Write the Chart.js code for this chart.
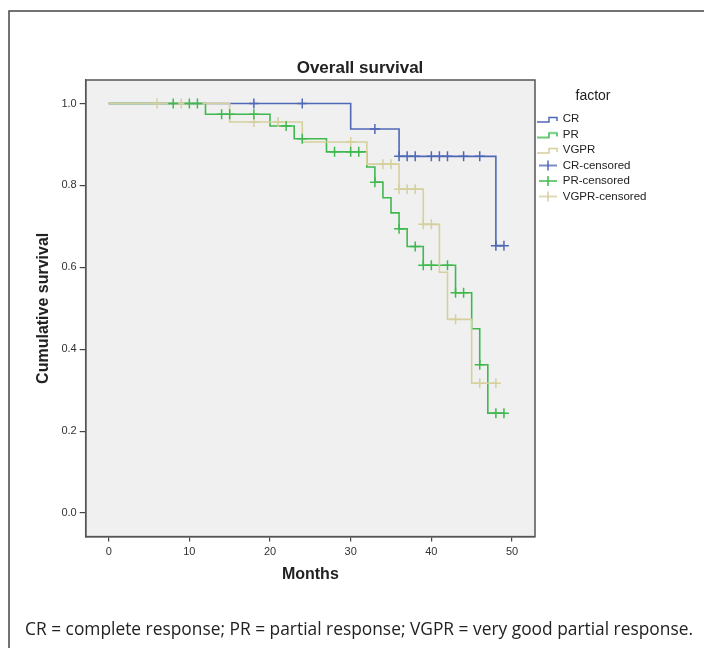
<!DOCTYPE html>
<html><head><meta charset="utf-8">
<script src="https://cdn.jsdelivr.net/npm/chart.js@4"></script>
<style>
html,body{margin:0;padding:0;background:#fff;width:704px;height:648px;overflow:hidden;}
#wrap{position:relative;width:704px;height:648px;}
#c{position:absolute;left:0;top:0;}
#caption{position:absolute;left:25px;top:617px;font-family:"Open Sans",sans-serif;font-size:19px;line-height:22px;color:#222;white-space:nowrap;transform-origin:0 0;}
</style></head><body>
<div id="wrap"><canvas id="c" width="704" height="648"></canvas>
<div id="caption">CR = complete response; PR = partial response; VGPR = very good partial response.</div></div>
<script>
// ---- text ----
const chartTitle = 'Overall survival';
const xTitle = 'Months';
const yTitle = 'Cumulative survival';
const legendTitle = 'factor';
const seriesNames = ['CR', 'PR', 'VGPR', 'CR-censored', 'PR-censored', 'VGPR-censored'];
const xTicks = [0, 10, 20, 30, 40, 50];
const yTicks = [0, 0.2, 0.4, 0.6, 0.8, 1.0];

// ---- step curves (time, cumulative survival) ----
const crTime   = [0, 30, 36, 48, 49];
const crSurv   = [1.0, 0.938, 0.871, 0.653, 0.653];
const prTime   = [0, 12, 20, 23, 27, 32, 33, 34, 35, 36, 37, 39, 43, 45, 46, 47, 49];
const prSurv   = [1.0, 0.974, 0.945, 0.914, 0.882, 0.845, 0.808, 0.770, 0.733, 0.694, 0.651, 0.605, 0.538, 0.450, 0.362, 0.244, 0.244];
const vgprTime = [0, 15, 24, 32, 36, 39, 41, 42, 45, 48];
const vgprSurv = [1.0, 0.955, 0.906, 0.852, 0.791, 0.705, 0.588, 0.473, 0.317, 0.317];

// ---- censored marks ----
const crCensTime   = [18, 24, 33, 36, 37, 38, 40, 41, 42, 44, 46, 48, 49];
const crCensSurv   = [1.0, 1.0, 0.938, 0.871, 0.871, 0.871, 0.871, 0.871, 0.871, 0.871, 0.871, 0.653, 0.653];
const prCensTime   = [8, 10, 11, 14, 15, 18, 22, 24, 28, 30, 31, 33, 36, 38, 39, 40, 42, 43, 44, 46, 48, 49];
const prCensSurv   = [1.0, 1.0, 1.0, 0.974, 0.974, 0.974, 0.945, 0.914, 0.882, 0.882, 0.882, 0.808, 0.694, 0.651, 0.605, 0.605, 0.605, 0.538, 0.538, 0.362, 0.244, 0.244];
const vgprCensTime = [6, 9, 18, 21, 30, 34, 35, 36, 37, 38, 39, 40, 43, 46, 48];
const vgprCensSurv = [1.0, 1.0, 0.955, 0.955, 0.906, 0.852, 0.852, 0.791, 0.791, 0.791, 0.705, 0.705, 0.473, 0.317, 0.317];

const colCR = '#4f68b6', colPR = '#3fb94e', colVG = '#d5d09c';
const FONT = '"Liberation Sans", Arial, sans-serif';

const pts = (xs, ys) => xs.map((x, i) => ({x: x, y: ys[i]}));

function stepIcon(color) {
  const c = document.createElement('canvas'); c.width = 22; c.height = 12;
  const g = c.getContext('2d'); g.strokeStyle = color; g.lineWidth = 1.5;
  g.beginPath(); g.moveTo(0, 9); g.lineTo(12, 9); g.lineTo(12, 4.5); g.lineTo(20, 4.5); g.lineTo(20, 8); g.stroke();
  return c;
}
function crossIcon(color) {
  const c = document.createElement('canvas'); c.width = 22; c.height = 12;
  const g = c.getContext('2d'); g.strokeStyle = color; g.lineWidth = 1.5;
  g.beginPath(); g.moveTo(2, 6); g.lineTo(20, 6); g.moveTo(11, 1); g.lineTo(11, 11); g.stroke();
  return c;
}
const icons = [stepIcon(colCR), stepIcon(colPR), stepIcon(colVG), crossIcon(colCR), crossIcon(colPR), crossIcon(colVG)];

const stepDs = (label, xs, ys, color, order) => ({
  type: 'line', label, data: pts(xs, ys), borderColor: color, backgroundColor: color,
  borderWidth: 1.6, stepped: 'before', pointRadius: 0, fill: false, order
});
const censDs = (label, xs, ys, color) => ({
  type: 'scatter', label, data: pts(xs, ys), borderColor: color, backgroundColor: color,
  pointStyle: 'cross', pointRadius: 5, pointBorderWidth: 1.5, showLine: false, order: 0
});

const decor = {
  id: 'decor',
  beforeLayout(chart) {
    const lg = chart.legend;
    if (lg && !lg._fixedW) {
      const f = lg.fit.bind(lg);
      lg.fit = function () { f(); this.width = 116; };
      lg._fixedW = true;
    }
  },
  beforeDraw(chart) {
    const {ctx, chartArea: a} = chart;
    ctx.save();
    ctx.fillStyle = '#f0f0f0';
    ctx.fillRect(a.left, a.top, a.right - a.left, a.bottom - a.top);
    ctx.restore();
  },
  afterDraw(chart) {
    const {ctx, chartArea: a} = chart;
    ctx.save();
    ctx.strokeStyle = '#555'; ctx.lineWidth = 1.5;
    ctx.strokeRect(a.left, a.top, a.right - a.left, a.bottom - a.top);
    ctx.strokeStyle = '#444'; ctx.lineWidth = 1.5;
    ctx.beginPath(); ctx.moveTo(9, 648); ctx.lineTo(9, 11); ctx.lineTo(704, 11); ctx.stroke();
    ctx.fillStyle = '#222';
    ctx.font = 'bold 17px ' + FONT;
    ctx.textAlign = 'center'; ctx.textBaseline = 'middle';
    ctx.fillText(chartTitle, 360, 68);
    ctx.restore();
  }
};

new Chart(document.getElementById('c'), {
  data: {
    datasets: [
      stepDs(seriesNames[0], crTime, crSurv, colCR, 3),
      stepDs(seriesNames[1], prTime, prSurv, colPR, 2),
      stepDs(seriesNames[2], vgprTime, vgprSurv, colVG, 1),
      censDs(seriesNames[3], crCensTime, crCensSurv, colCR),
      censDs(seriesNames[4], prCensTime, prCensSurv, colPR),
      censDs(seriesNames[5], vgprCensTime, vgprCensSurv, colVG)
    ]
  },
  options: {
    responsive: false, animation: false, devicePixelRatio: 1,
    layout: {padding: {left: 10, top: 80, right: 53, bottom: 61.4}},
    font: {family: FONT},
    scales: {
      x: {
        type: 'linear', min: -2.85, max: 52.85,
        afterFit: (s) => { s.height = 50; },
        afterBuildTicks: (s) => { s.ticks = xTicks.map(v => ({value: v})); },
        ticks: {color: '#333', font: {size: 11, family: FONT}, padding: 4, callback: (v) => String(v), maxRotation: 0},
        grid: {drawOnChartArea: false, drawTicks: true, tickLength: 5, color: '#444', lineWidth: 1.2},
        border: {display: true, color: '#555', width: 1.5},
        title: {display: true, text: xTitle, color: '#222', font: {size: 16, weight: 'bold', family: FONT}, padding: {top: 0, bottom: 2}}
      },
      y: {
        type: 'linear', min: -0.0575, max: 1.0575,
        afterFit: (s) => { s.width = 75.7; },
        afterBuildTicks: (s) => { s.ticks = yTicks.map(v => ({value: v})); },
        ticks: {color: '#333', font: {size: 11, family: FONT}, padding: 3, callback: (v) => Number(v).toFixed(1)},
        grid: {drawOnChartArea: false, drawTicks: true, tickLength: 6, color: '#444', lineWidth: 1.2},
        border: {display: true, color: '#555', width: 1.5},
        title: {display: true, text: yTitle, color: '#222', font: {size: 16, weight: 'bold', family: FONT}, padding: {top: 24.4, bottom: 0}}
      }
    },
    plugins: {
      title: {display: false},
      tooltip: {enabled: false},
      legend: {
        display: true, position: 'right', align: 'start',
        title: {display: true, text: legendTitle, color: '#222', font: {size: 14, family: FONT}, padding: {top: 8.7, bottom: 3.75}},
        labels: {
          usePointStyle: true, pointStyleWidth: 18, padding: 4, color: '#222',
          font: {size: 11.5, family: FONT},
          generateLabels: (chart) => chart.data.datasets.map((ds, i) => ({
            text: ds.label, datasetIndex: i, pointStyle: icons[i],
            fillStyle: ds.borderColor, strokeStyle: ds.borderColor, lineWidth: 0,
            hidden: !chart.isDatasetVisible(i), fontColor: '#222'
          }))
        }
      }
    }
  },
  plugins: [decor]
});

// fit caption to the reference width
(function () {
  const cap = document.getElementById('caption');
  const w = cap.getBoundingClientRect().width;
  const target = 668;
  if (w > 0) cap.style.transform = 'scaleX(' + (target / w).toFixed(4) + ')';
})();
</script>
</body></html>
